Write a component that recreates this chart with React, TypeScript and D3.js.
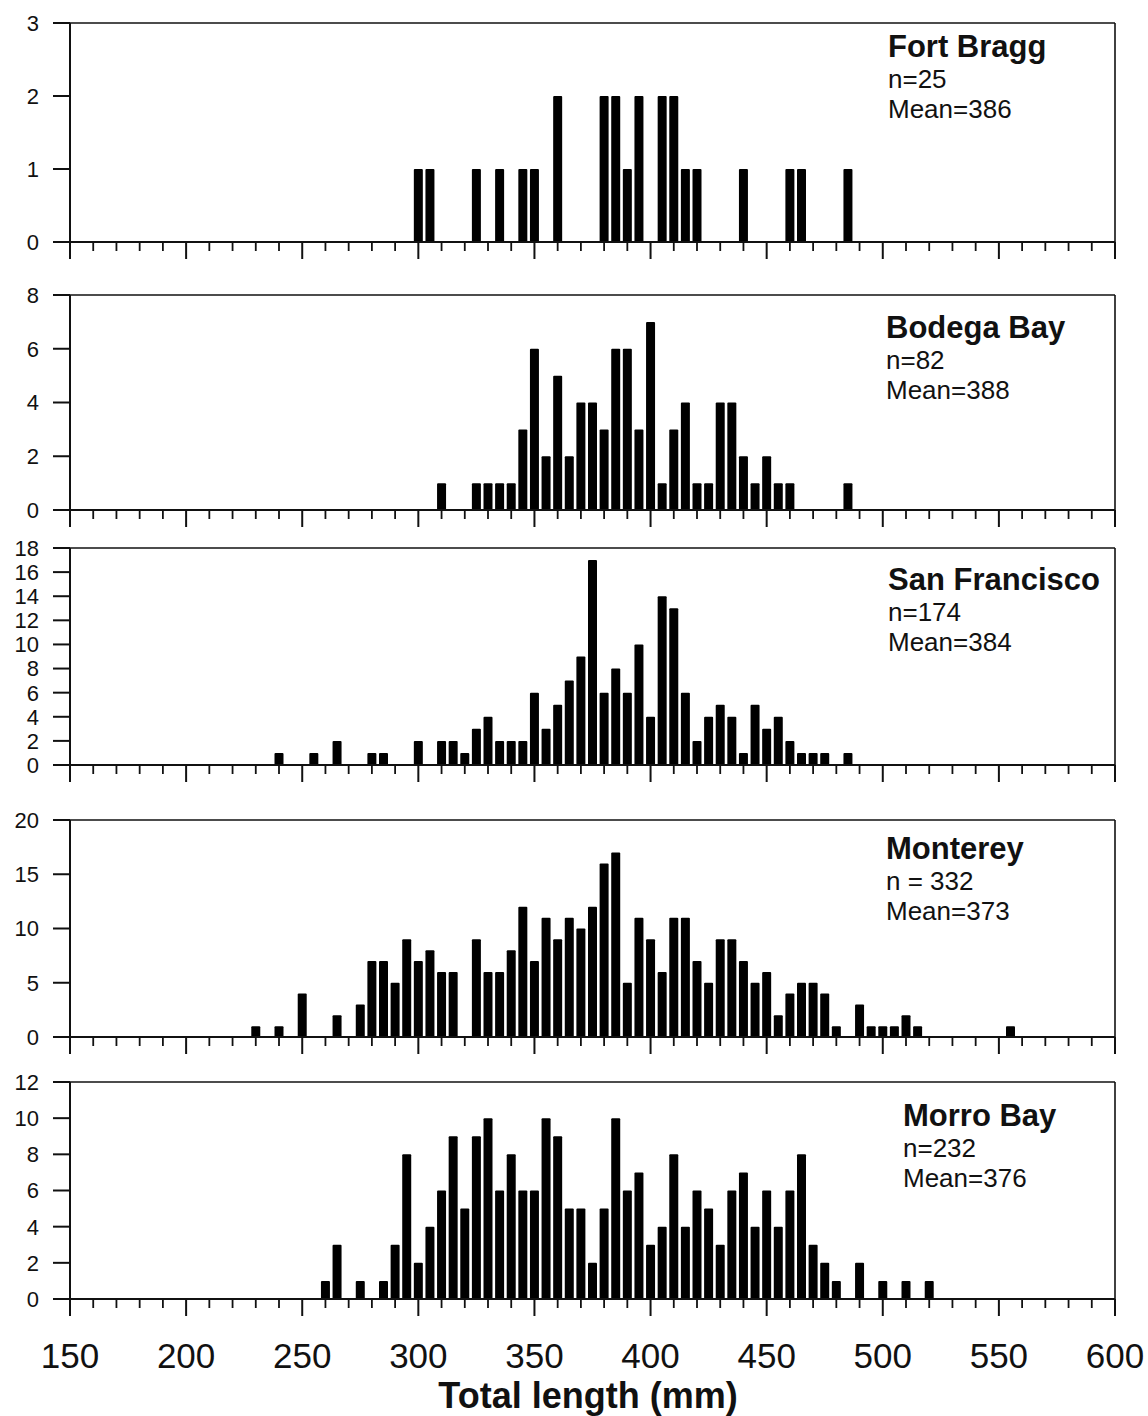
import React, { useRef, useEffect } from "react";
import * as d3 from "d3";

// Length bins (mm, bin centre) and fish counts per site
const fortBraggLengths = [300, 305, 325, 335, 345, 350, 360, 380, 385, 390, 395, 405, 410, 415, 420, 440, 460, 465, 485];
const fortBraggCounts = [1, 1, 1, 1, 1, 1, 2, 2, 2, 1, 2, 2, 2, 1, 1, 1, 1, 1, 1];

const bodegaLengths = [310, 325, 330, 335, 340, 345, 350, 355, 360, 365, 370, 375, 380, 385, 390, 395, 400, 405, 410, 415, 420, 425, 430, 435, 440, 445, 450, 455, 460, 485];
const bodegaCounts = [1, 1, 1, 1, 1, 3, 6, 2, 5, 2, 4, 4, 3, 6, 6, 3, 7, 1, 3, 4, 1, 1, 4, 4, 2, 1, 2, 1, 1, 1];

const sanFranciscoLengths = [240, 255, 265, 280, 285, 300, 310, 315, 320, 325, 330, 335, 340, 345, 350, 355, 360, 365, 370, 375, 380, 385, 390, 395, 400, 405, 410, 415, 420, 425, 430, 435, 440, 445, 450, 455, 460, 465, 470, 475, 485];
const sanFranciscoCounts = [1, 1, 2, 1, 1, 2, 2, 2, 1, 3, 4, 2, 2, 2, 6, 3, 5, 7, 9, 17, 6, 8, 6, 10, 4, 14, 13, 6, 2, 4, 5, 4, 1, 5, 3, 4, 2, 1, 1, 1, 1];

const montereyLengths = [230, 240, 250, 265, 275, 280, 285, 290, 295, 300, 305, 310, 315, 325, 330, 335, 340, 345, 350, 355, 360, 365, 370, 375, 380, 385, 390, 395, 400, 405, 410, 415, 420, 425, 430, 435, 440, 445, 450, 455, 460, 465, 470, 475, 480, 490, 495, 500, 505, 510, 515, 555];
const montereyCounts = [1, 1, 4, 2, 3, 7, 7, 5, 9, 7, 8, 6, 6, 9, 6, 6, 8, 12, 7, 11, 9, 11, 10, 12, 16, 17, 5, 11, 9, 6, 11, 11, 7, 5, 9, 9, 7, 5, 6, 2, 4, 5, 5, 4, 1, 3, 1, 1, 1, 2, 1, 1];

const morroBayLengths = [260, 265, 275, 285, 290, 295, 300, 305, 310, 315, 320, 325, 330, 335, 340, 345, 350, 355, 360, 365, 370, 375, 380, 385, 390, 395, 400, 405, 410, 415, 420, 425, 430, 435, 440, 445, 450, 455, 460, 465, 470, 475, 480, 490, 500, 510, 520];
const morroBayCounts = [1, 3, 1, 1, 3, 8, 2, 4, 6, 9, 5, 9, 10, 6, 8, 6, 6, 10, 9, 5, 5, 2, 5, 10, 6, 7, 3, 4, 8, 4, 6, 5, 3, 6, 7, 4, 6, 4, 6, 8, 3, 2, 1, 2, 1, 1, 1];

// Site labels
const siteNames = ["Fort Bragg", "Bodega Bay", "San Francisco", "Monterey", "Morro Bay"];
const siteN = ["n=25", "n=82", "n=174", "n = 332", "n=232"];
const siteMeans = ["Mean=386", "Mean=388", "Mean=384", "Mean=373", "Mean=376"];

// Y axis ticks per panel
const yTicks = [
  [0, 1, 2, 3],
  [0, 2, 4, 6, 8],
  [0, 2, 4, 6, 8, 10, 12, 14, 16, 18],
  [0, 5, 10, 15, 20],
  [0, 2, 4, 6, 8, 10, 12],
];

// X axis
const xMajorTicks = [150, 200, 250, 300, 350, 400, 450, 500, 550, 600];
const xTitle = "Total length (mm)";

const App: React.FC = () => {
  const svgRef = useRef<SVGSVGElement | null>(null);

  useEffect(() => {
    if (!svgRef.current) return;

    const width = 1148;
    const height = 1416;
    const font = "'Liberation Sans', Arial, Helvetica, sans-serif";

    const panels = [
      { lengths: fortBraggLengths, counts: fortBraggCounts, top: 23, bottom: 242, labelX: 888, labelY: 57 },
      { lengths: bodegaLengths, counts: bodegaCounts, top: 295, bottom: 510, labelX: 886, labelY: 338 },
      { lengths: sanFranciscoLengths, counts: sanFranciscoCounts, top: 548, bottom: 765, labelX: 888, labelY: 590 },
      { lengths: montereyLengths, counts: montereyCounts, top: 820, bottom: 1037, labelX: 886, labelY: 859 },
      { lengths: morroBayLengths, counts: morroBayCounts, top: 1082, bottom: 1299, labelX: 903, labelY: 1126 },
    ];

    const xScale = d3.scaleLinear().domain([150, 600]).range([70, 1115]);
    const minorTicks = d3.range(150, 601, 10).filter((v) => v % 50 !== 0);
    const barWidth = 9;

    const svg = d3.select(svgRef.current).attr("width", width).attr("height", height);
    svg.selectAll("*").remove();
    svg.append("rect").attr("width", width).attr("height", height).attr("fill", "#fff");

    panels.forEach((p, i) => {
      const ticks = yTicks[i];
      const yScale = d3
        .scaleLinear()
        .domain([0, ticks[ticks.length - 1]])
        .range([p.bottom, p.top]);
      const g = svg.append("g").attr("class", `panel-${i}`);

      // frame: top and right lines
      g.append("line")
        .attr("x1", 70).attr("x2", 1115)
        .attr("y1", p.top).attr("y2", p.top)
        .attr("stroke", "#111").attr("stroke-width", 1.6);
      g.append("line")
        .attr("x1", 1115).attr("x2", 1115)
        .attr("y1", p.top).attr("y2", p.bottom)
        .attr("stroke", "#111").attr("stroke-width", 1.6);

      // bars
      g.append("g")
        .selectAll("rect")
        .data(p.lengths.map((len, j) => ({ len, count: p.counts[j] })))
        .enter()
        .append("rect")
        .attr("x", (d) => xScale(d.len) - barWidth / 2)
        .attr("y", (d) => yScale(d.count))
        .attr("width", barWidth)
        .attr("height", (d) => p.bottom - yScale(d.count))
        .attr("rx", 1)
        .attr("fill", "#000");

      // y axis
      g.append("line")
        .attr("x1", 70).attr("x2", 70)
        .attr("y1", p.top).attr("y2", p.bottom + 17)
        .attr("stroke", "#111").attr("stroke-width", 2);
      g.append("g")
        .selectAll("line")
        .data(ticks)
        .enter()
        .append("line")
        .attr("x1", 53).attr("x2", 70)
        .attr("y1", (d) => yScale(d)).attr("y2", (d) => yScale(d))
        .attr("stroke", "#111").attr("stroke-width", 2);
      g.append("g")
        .selectAll("text")
        .data(ticks)
        .enter()
        .append("text")
        .attr("x", 39)
        .attr("y", (d) => yScale(d))
        .attr("dy", "0.36em")
        .attr("text-anchor", "end")
        .attr("font-family", font)
        .attr("font-size", 22)
        .attr("fill", "#111")
        .text((d) => d);

      // x axis
      g.append("line")
        .attr("x1", 70).attr("x2", 1115)
        .attr("y1", p.bottom).attr("y2", p.bottom)
        .attr("stroke", "#111").attr("stroke-width", 2);
      g.append("g")
        .selectAll("line")
        .data(xMajorTicks)
        .enter()
        .append("line")
        .attr("x1", (d) => xScale(d)).attr("x2", (d) => xScale(d))
        .attr("y1", p.bottom).attr("y2", p.bottom + 17)
        .attr("stroke", "#111").attr("stroke-width", 2);
      g.append("g")
        .selectAll("line")
        .data(minorTicks)
        .enter()
        .append("line")
        .attr("x1", (d) => xScale(d)).attr("x2", (d) => xScale(d))
        .attr("y1", p.bottom).attr("y2", p.bottom + 9)
        .attr("stroke", "#111").attr("stroke-width", 1.8);

      // site label
      g.append("text")
        .attr("x", p.labelX).attr("y", p.labelY)
        .attr("font-family", font).attr("font-size", 31).attr("font-weight", "bold")
        .attr("fill", "#111")
        .text(siteNames[i]);
      g.append("text")
        .attr("x", p.labelX).attr("y", p.labelY + 31)
        .attr("font-family", font).attr("font-size", 26)
        .attr("fill", "#111")
        .text(siteN[i]);
      g.append("text")
        .attr("x", p.labelX).attr("y", p.labelY + 61)
        .attr("font-family", font).attr("font-size", 26)
        .attr("fill", "#111")
        .text(siteMeans[i]);
    });

    // bottom tick labels and title
    svg.append("g")
      .selectAll("text")
      .data(xMajorTicks)
      .enter()
      .append("text")
      .attr("x", (d) => xScale(d))
      .attr("y", 1368)
      .attr("text-anchor", "middle")
      .attr("font-family", font)
      .attr("font-size", 35)
      .attr("fill", "#111")
      .text((d) => d);
    svg.append("text")
      .attr("x", 588)
      .attr("y", 1408)
      .attr("text-anchor", "middle")
      .attr("font-family", font)
      .attr("font-size", 36)
      .attr("font-weight", "bold")
      .attr("fill", "#111")
      .text(xTitle);
  }, []);

  return <svg ref={svgRef} style={{ position: "absolute", left: 0, top: 0 }} />;
};

export default App;
